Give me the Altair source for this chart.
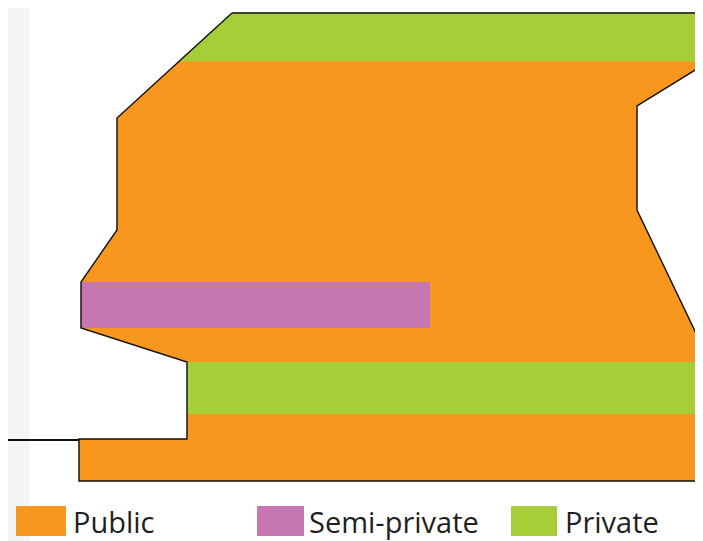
import altair as alt
import pandas as pd

# Floor plan zones (vertex coordinates in picture units, y downwards)
building_x = [232, 705, 705, 637, 637, 705, 705, 79, 79, 187, 187, 81, 81, 117, 117, 232]
building_y = [13, 13, 64, 106, 210, 352, 481, 481, 439, 439, 362, 328, 282, 230, 118, 13]

top_private_x = [232, 705, 705, 179, 232]
top_private_y = [13, 13, 61, 61, 13]

# rectangles: x, x2, y, y2
rect_zone = ["Private", "Semi-private"]
rect_x = [187, 81]
rect_x2 = [705, 430]
rect_y = [362, 282]
rect_y2 = [414, 328]

ground_line_x = [0, 79]
ground_line_y = [440, 440]

legend_labels = ["Public", "Semi-private", "Private"]
legend_colors = ["#F7971E", "#C677B1", "#A6CE39"]
legend_box_x = [16, 257, 511]
legend_box_x2 = [66, 304, 557]
legend_text_x = [73, 309, 565]

W, H = 695, 541
XS = alt.Scale(domain=[8, W], nice=False, zero=False)
YS = alt.Scale(domain=[8, H], nice=False, zero=False, reverse=True)


def poly_df(xs, ys):
    return pd.DataFrame({"x": xs, "y": ys, "i": list(range(len(xs)))})


def poly_layer(xs, ys, **mark):
    return alt.Chart(poly_df(xs, ys)).mark_line(**mark).encode(
        x=alt.X("x:Q", scale=XS, axis=None),
        y=alt.Y("y:Q", scale=YS, axis=None),
        order="i:O",
    )


strip = alt.Chart(pd.DataFrame({"x": [8], "x2": [30], "y": [8], "y2": [541]})).mark_rect(
    color="#f5f5f5"
).encode(
    x=alt.X("x:Q", scale=XS, axis=None), x2="x2:Q",
    y=alt.Y("y:Q", scale=YS, axis=None), y2="y2:Q",
)

building_fill = poly_layer(building_x, building_y, fill="#F7971E", stroke="#F7971E", strokeWidth=0.5)
top_band = poly_layer(top_private_x, top_private_y, fill="#A6CE39", stroke="#A6CE39", strokeWidth=0.5)

rect_df = pd.DataFrame({"zone": rect_zone, "x": rect_x, "x2": rect_x2, "y": rect_y, "y2": rect_y2})
rects = alt.Chart(rect_df).mark_rect().encode(
    x=alt.X("x:Q", scale=XS, axis=None), x2="x2:Q",
    y=alt.Y("y:Q", scale=YS, axis=None), y2="y2:Q",
    color=alt.Color("zone:N", scale=alt.Scale(domain=legend_labels, range=legend_colors), legend=None),
)

outline = poly_layer(building_x, building_y, stroke="#111111", strokeWidth=1.4)

ground = poly_layer(ground_line_x, ground_line_y, stroke="#111111", strokeWidth=2)

leg_df = pd.DataFrame({
    "label": legend_labels,
    "x": legend_box_x, "x2": legend_box_x2,
    "y": [506] * 3, "y2": [536] * 3,
    "tx": legend_text_x, "ty": [533] * 3,
})
leg_boxes = alt.Chart(leg_df).mark_rect().encode(
    x=alt.X("x:Q", scale=XS, axis=None), x2="x2:Q",
    y=alt.Y("y:Q", scale=YS, axis=None), y2="y2:Q",
    color=alt.Color("label:N", scale=alt.Scale(domain=legend_labels, range=legend_colors), legend=None),
)
leg_text = alt.Chart(leg_df).mark_text(
    align="left", baseline="alphabetic", font="Open Sans", fontSize=29, color="#231f20"
).encode(
    x=alt.X("tx:Q", scale=XS, axis=None),
    y=alt.Y("ty:Q", scale=YS, axis=None),
    text="label:N",
)

chart = alt.layer(
    strip, building_fill, top_band, rects, outline, ground, leg_boxes, leg_text
).properties(
    width=W - 8, height=H - 8, padding=0, autosize=alt.AutoSizeParams(type="none")
).configure_view(stroke=None)

chart.save("out.html", embed_options={"renderer": "svg", "actions": False})
